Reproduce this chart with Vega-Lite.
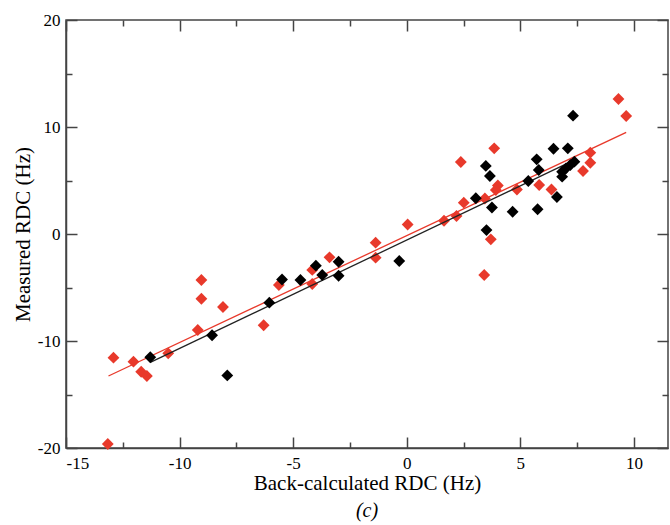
{
  "$schema": "https://vega.github.io/schema/vega-lite/v6.json",
  "width": 602,
  "height": 428,
  "autosize": "none",
  "padding": {"left": 66, "top": 20, "right": 2, "bottom": 77},
  "background": "white",
  "title": {"text": "(c)", "orient": "bottom", "font": "Liberation Serif", "fontSize": 20, "fontStyle": "italic", "fontWeight": "normal", "color": "black", "offset": 8},
  "config": {
    "view": {"stroke": "#444", "strokeWidth": 1.5},
    "axis": {
      "labelFont": "Liberation Serif", "labelFontSize": 17, "labelColor": "black",
      "titleFont": "Liberation Serif", "titleFontSize": 21, "titleFontWeight": "normal", "titleColor": "black",
      "domainColor": "#444", "domainWidth": 1.5, "tickColor": "#444", "tickWidth": 1.5, "grid": false
    }
  },
  "datasets": {
    "pts": [
      {"x": -13.16, "y": -19.63, "s": "red"},
      {"x": -12.91, "y": -11.56, "s": "red"},
      {"x": -12.03, "y": -11.93, "s": "red"},
      {"x": -11.69, "y": -12.87, "s": "red"},
      {"x": -11.44, "y": -13.27, "s": "red"},
      {"x": -10.5, "y": -11.15, "s": "red"},
      {"x": -9.2, "y": -8.97, "s": "red"},
      {"x": -9.04, "y": -4.3, "s": "red"},
      {"x": -9.04, "y": -6.05, "s": "red"},
      {"x": -8.09, "y": -6.82, "s": "red"},
      {"x": -6.3, "y": -8.53, "s": "red"},
      {"x": -5.63, "y": -4.77, "s": "red"},
      {"x": -4.16, "y": -3.36, "s": "red"},
      {"x": -4.16, "y": -4.67, "s": "red"},
      {"x": -3.4, "y": -2.18, "s": "red"},
      {"x": -1.37, "y": -0.81, "s": "red"},
      {"x": -1.37, "y": -2.21, "s": "red"},
      {"x": 0.04, "y": 0.89, "s": "red"},
      {"x": 1.64, "y": 1.24, "s": "red"},
      {"x": 2.19, "y": 1.68, "s": "red"},
      {"x": 2.38, "y": 6.73, "s": "red"},
      {"x": 2.51, "y": 2.93, "s": "red"},
      {"x": 3.44, "y": 3.32, "s": "red"},
      {"x": 3.41, "y": -3.83, "s": "red"},
      {"x": 3.7, "y": -0.5, "s": "red"},
      {"x": 3.85, "y": 8.01, "s": "red"},
      {"x": 4.01, "y": 4.53, "s": "red"},
      {"x": 3.92, "y": 4.11, "s": "red"},
      {"x": 4.85, "y": 4.16, "s": "red"},
      {"x": 5.83, "y": 4.58, "s": "red"},
      {"x": 6.37, "y": 4.16, "s": "red"},
      {"x": 7.76, "y": 5.89, "s": "red"},
      {"x": 8.08, "y": 6.66, "s": "red"},
      {"x": 8.08, "y": 7.6, "s": "red"},
      {"x": 9.32, "y": 12.62, "s": "red"},
      {"x": 9.66, "y": 11.03, "s": "red"},
      {"x": -11.29, "y": -11.52, "s": "black"},
      {"x": -8.57, "y": -9.46, "s": "black"},
      {"x": -7.9, "y": -13.22, "s": "black"},
      {"x": -6.05, "y": -6.42, "s": "black"},
      {"x": -5.49, "y": -4.25, "s": "black"},
      {"x": -4.68, "y": -4.3, "s": "black"},
      {"x": -4.0, "y": -2.96, "s": "black"},
      {"x": -3.72, "y": -3.83, "s": "black"},
      {"x": -3.0, "y": -2.59, "s": "black"},
      {"x": -3.0, "y": -3.9, "s": "black"},
      {"x": -0.33, "y": -2.52, "s": "black"},
      {"x": 3.04, "y": 3.34, "s": "black"},
      {"x": 3.48, "y": 6.36, "s": "black"},
      {"x": 3.66, "y": 5.42, "s": "black"},
      {"x": 3.51, "y": 0.37, "s": "black"},
      {"x": 3.75, "y": 2.48, "s": "black"},
      {"x": 4.66, "y": 2.08, "s": "black"},
      {"x": 5.35, "y": 4.95, "s": "black"},
      {"x": 5.72, "y": 6.98, "s": "black"},
      {"x": 5.81, "y": 5.98, "s": "black"},
      {"x": 5.76, "y": 2.31, "s": "black"},
      {"x": 6.46, "y": 7.97, "s": "black"},
      {"x": 6.61, "y": 3.46, "s": "black"},
      {"x": 7.09, "y": 8.01, "s": "black"},
      {"x": 7.32, "y": 11.06, "s": "black"},
      {"x": 7.38, "y": 6.76, "s": "black"},
      {"x": 7.2, "y": 6.45, "s": "black"},
      {"x": 7.01, "y": 6.14, "s": "black"},
      {"x": 6.84, "y": 5.82, "s": "black"},
      {"x": 6.84, "y": 5.36, "s": "black"}
    ],
    "fits": [
      {"x": -13.13, "y": -13.27, "s": "red"},
      {"x": 9.66, "y": 9.5, "s": "red"},
      {"x": -11.29, "y": -12.0, "s": "black"},
      {"x": 7.37, "y": 6.9, "s": "black"}
    ]
  },
  "layer": [
    {
      "data": {"name": "pts"},
      "transform": [{"filter": "datum.s === 'red'"}],
      "mark": {"type": "point", "shape": "diamond", "filled": true, "size": 140, "opacity": 1, "color": "#e8392b"},
      "encoding": {
        "x": {"field": "x", "type": "quantitative", "scale": {"domain": [-15, 11.5], "nice": false, "zero": false},
          "axis": {"orient": "bottom", "title": "Back-calculated RDC (Hz)", "values": [-15, -10, -5, 0, 5, 10], "labelExpr": "toString(datum.value)", "tickSize": -11, "labelPadding": 18, "titlePadding": 1}},
        "y": {"field": "y", "type": "quantitative", "scale": {"domain": [-20, 20], "nice": false, "zero": false},
          "axis": {"orient": "left", "title": "Measured RDC (Hz)", "values": [-20, -10, 0, 10, 20], "labelExpr": "toString(datum.value)", "tickSize": -11, "labelPadding": 17, "titlePadding": 4}}
      }
    },
    {
      "data": {"name": "fits"},
      "transform": [{"filter": "datum.s === 'black'"}],
      "mark": {"type": "line", "color": "#222222", "strokeWidth": 1.3},
      "encoding": {
        "x": {"field": "x", "type": "quantitative",
          "axis": {"orient": "top", "title": null, "labels": false, "values": [-15, -10, -5, 0, 5, 10], "tickSize": -11, "domain": false}},
        "y": {"field": "y", "type": "quantitative",
          "axis": {"orient": "right", "title": null, "labels": false, "values": [-20, -10, 0, 10, 20], "tickSize": -11, "domain": false}}
      }
    },
    {
      "data": {"name": "fits"},
      "transform": [{"filter": "datum.s === 'red'"}],
      "mark": {"type": "line", "color": "#e8392b", "strokeWidth": 1.3},
      "encoding": {
        "x": {"field": "x", "type": "quantitative",
          "axis": {"orient": "bottom", "title": null, "labels": false, "values": [-12.5, -7.5, -2.5, 2.5, 7.5], "tickSize": -6, "domain": false}},
        "y": {"field": "y", "type": "quantitative",
          "axis": {"orient": "left", "title": null, "labels": false, "values": [-15, -5, 5, 15], "tickSize": -6, "domain": false}}
      }
    },
    {
      "data": {"name": "pts"},
      "transform": [{"filter": "datum.s === 'black'"}],
      "mark": {"type": "point", "shape": "diamond", "filled": true, "size": 140, "opacity": 1, "color": "#000000"},
      "encoding": {
        "x": {"field": "x", "type": "quantitative",
          "axis": {"orient": "top", "title": null, "labels": false, "values": [-12.5, -7.5, -2.5, 2.5, 7.5], "tickSize": -6, "domain": false}},
        "y": {"field": "y", "type": "quantitative",
          "axis": {"orient": "right", "title": null, "labels": false, "values": [-15, -5, 5, 15], "tickSize": -6, "domain": false}}
      }
    }
  ],
  "resolve": {"axis": {"x": "independent", "y": "independent"}}
}
